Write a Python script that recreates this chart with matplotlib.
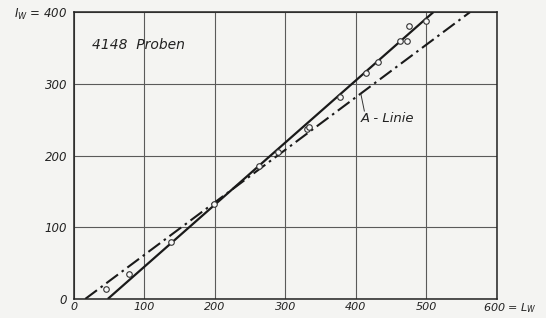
import matplotlib
matplotlib.use("Agg")
import matplotlib.pyplot as plt
import matplotlib.transforms as mtransforms

# --- data ---
pts_L = [45, 78, 138, 199, 262, 290, 330, 334, 378, 414, 432, 462, 472, 475, 499]
pts_I = [14, 35, 79, 133, 186, 205, 237, 240, 281, 315, 330, 359, 360, 381, 388]

solid_L = [48, 510]      # fitted line (solid)
solid_I = [0, 400]
aline_L = [16, 562]      # "A-Linie" (dash-dot)
aline_I = [0, 400]

x_ticks = [0, 100, 200, 300, 400, 500, 600]
x_labels = ["0", "100", "200", "300", "400", "500", "600 = $L_W$"]
y_ticks = [0, 100, 200, 300, 400]
y_labels = ["0", "100", "200", "300", "$I_W$ = 400"]

plt.rcParams['mathtext.fontset'] = 'dejavusans'
plt.rcParams['font.family'] = ['DejaVu Sans']

bg = '#f4f4f2'
fig = plt.figure(figsize=(5.46, 3.18), dpi=100, facecolor=bg)
ax = fig.add_axes([0.1355, 0.060, 0.7745, 0.902])
ax.set_facecolor(bg)

ax.set_xlim(0, 600)
ax.set_ylim(0, 400)
ax.set_xticks(x_ticks)
ax.set_yticks(y_ticks)
ax.set_xticklabels(x_labels, fontstyle='italic', fontsize=8, color='#222222')
ax.set_yticklabels(y_labels, fontstyle='italic', fontsize=8.5, color='#222222')
ax.tick_params(axis='x', length=0, pad=2)
ax.tick_params(axis='y', length=0, pad=5)

ax.grid(True, color='#5a5a5a', linewidth=0.8)
ax.set_axisbelow(True)
for s in ax.spines.values():
    s.set_color('#222222')
    s.set_linewidth(1.1)

ax.plot(solid_L, solid_I, color='#1a1a1a', linewidth=1.6, solid_capstyle='butt')
ax.plot(aline_L, aline_I, color='#1a1a1a', linewidth=1.5,
        dashes=(7, 2.2, 1.2, 2.2))
ax.scatter(pts_L, pts_I, s=16, facecolors='#f8f8f8', edgecolors='#333333',
           linewidths=0.8, zorder=5)

ax.text(25, 354, "4148  Proben", fontstyle='italic', fontsize=10,
        color='#222222', va='center', ha='left')
ax.text(407, 251, "A - Linie", fontstyle='italic', fontsize=9.5,
        color='#222222', va='center', ha='left')
ax.plot([412, 407], [262, 286], color='#333333', linewidth=0.7)

# the last x label starts just left of the frame edge
lab = ax.get_xticklabels()[-1]
lab.set_horizontalalignment('left')
off = mtransforms.ScaledTranslation(-10 / 72, 0, fig.dpi_scale_trans)
lab.set_transform(lab.get_transform() + off)

fig.savefig("out.png", dpi=100, facecolor=bg)
